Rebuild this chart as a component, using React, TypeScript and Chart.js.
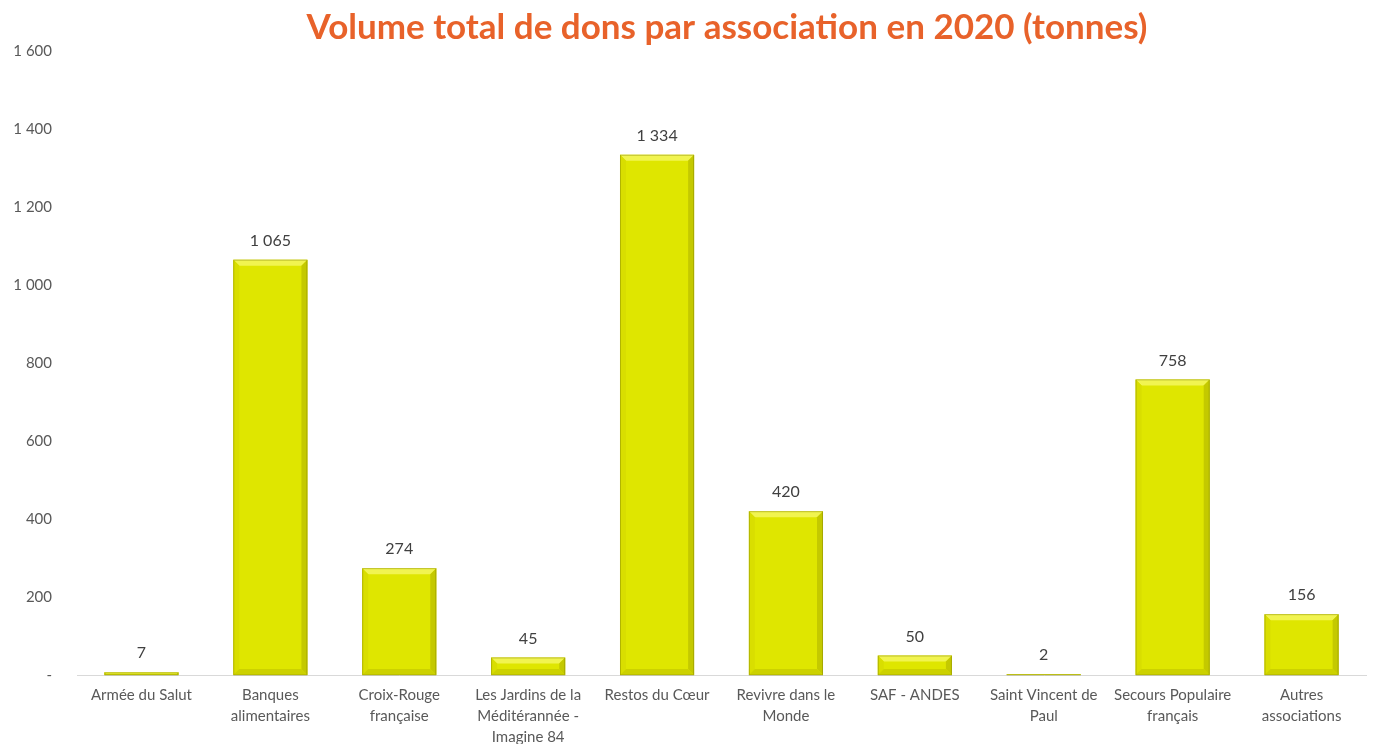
import React, { useEffect, useRef } from "react";
import { Chart, registerables } from "chart.js";

Chart.register(...registerables);

const categories: (string | string[])[] = [
  "Armée du Salut",
  ["Banques", "alimentaires"],
  ["Croix-Rouge", "française"],
  ["Les Jardins de la", "Méditérannée -", "Imagine 84"],
  "Restos du Cœur",
  ["Revivre dans le", "Monde"],
  "SAF - ANDES",
  ["Saint Vincent de", "Paul"],
  ["Secours Populaire", "français"],
  ["Autres", "associations"],
];
const volumes: number[] = [7, 1065, 274, 45, 1334, 420, 50, 2, 758, 156];
const titleText = "Volume total de dons par association en 2020 (tonnes)";
const yMin = 0;
const yMax = 1600;
const yStep = 200;

const FONT = "Lato, 'Open Sans', sans-serif";

function fmt(v: number): string {
  if (v === 0) return "-";
  return String(v).replace(/\B(?=(\d{3})+(?!\d))/g, " ");
}

const titlePlugin = {
  id: "customTitle",
  afterDraw(chart: any) {
    const ctx = chart.ctx;
    ctx.save();
    ctx.fillStyle = "#E8622A";
    ctx.font = "bold 35px " + FONT;
    ctx.textAlign = "center";
    ctx.textBaseline = "middle";
    ctx.fillText(titleText, 727, 28);
    ctx.restore();
  },
};

const bevelPlugin = {
  id: "bevel",
  afterDatasetsDraw(chart: any) {
    const ctx = chart.ctx;
    const meta = chart.getDatasetMeta(0);
    ctx.save();
    meta.data.forEach((bar: any, i: number) => {
      const { x, y, base, width } = bar.getProps(["x", "y", "base", "width"], true);
      const l = x - width / 2;
      const r = x + width / 2;
      const t = y;
      const b = base;
      const h = b - t;
      const bv = Math.min(6, h / 2);
      ctx.fillStyle = "#F1F450";
      ctx.beginPath();
      ctx.moveTo(l, t);
      ctx.lineTo(r, t);
      ctx.lineTo(r - bv, t + bv);
      ctx.lineTo(l + bv, t + bv);
      ctx.closePath();
      ctx.fill();
      ctx.fillStyle = "#D9DE00";
      ctx.beginPath();
      ctx.moveTo(l, t);
      ctx.lineTo(l + bv, t + bv);
      ctx.lineTo(l + bv, b - bv);
      ctx.lineTo(l, b);
      ctx.closePath();
      ctx.fill();
      ctx.fillStyle = "#C4C900";
      ctx.beginPath();
      ctx.moveTo(r, t);
      ctx.lineTo(r - bv, t + bv);
      ctx.lineTo(r - bv, b - bv);
      ctx.lineTo(r, b);
      ctx.closePath();
      ctx.fill();
      ctx.fillStyle = "#CCD100";
      ctx.beginPath();
      ctx.moveTo(l, b);
      ctx.lineTo(l + bv, b - bv);
      ctx.lineTo(r - bv, b - bv);
      ctx.lineTo(r, b);
      ctx.closePath();
      ctx.fill();
      ctx.strokeStyle = "rgba(130,130,0,0.45)";
      ctx.lineWidth = 1;
      ctx.strokeRect(l + 0.5, t + 0.5, width - 1, h - 0.5);
      ctx.fillStyle = "#404040";
      ctx.font = "16px " + FONT;
      ctx.textAlign = "center";
      ctx.textBaseline = "bottom";
      ctx.fillText(fmt(volumes[i]), x, t - 11);
    });
    ctx.restore();
  },
};

export default function App() {
  const ref = useRef<HTMLCanvasElement | null>(null);
  useEffect(() => {
    if (!ref.current) return;
    const chart = new Chart(ref.current, {
      type: "bar",
      data: {
        labels: categories,
        datasets: [
          {
            data: volumes,
            backgroundColor: "#DFE600",
            borderWidth: 0,
            barPercentage: 0.575,
            categoryPercentage: 1,
          },
        ],
      },
      options: {
        animation: false,
        responsive: false,
        maintainAspectRatio: false,
        layout: { padding: { left: 0, right: 7, top: 51, bottom: 0 } },
        plugins: {
          legend: { display: false },
          tooltip: { enabled: false },
          title: { display: false },
        },
        scales: {
          x: {
            grid: { display: false, drawTicks: false },
            border: { display: true, color: "#D9D9D9", width: 1 },
            ticks: {
              color: "#595959",
              font: { family: FONT, size: 15, lineHeight: 1.4 },
              maxRotation: 0,
              autoSkip: false,
              padding: 10,
            },
            afterFit(scale: any) {
              scale.height = 69;
            },
          },
          y: {
            min: yMin,
            max: yMax,
            grid: { display: false, drawTicks: false },
            border: { display: false },
            ticks: {
              stepSize: yStep,
              color: "#595959",
              font: { family: FONT, size: 15 },
              padding: 25,
              callback: (v: any) => fmt(Number(v)),
            },
            afterFit(scale: any) {
              scale.width = 77;
            },
          },
        },
      },
      plugins: [bevelPlugin, titlePlugin],
    });
    return () => chart.destroy();
  }, []);
  return (
    <div style={{ position: "fixed", left: 0, top: 0, width: 1373, height: 744, background: "#fff" }}>
      <canvas ref={ref} width={1373} height={744} style={{ width: 1373, height: 744 }} />
    </div>
  );
}
